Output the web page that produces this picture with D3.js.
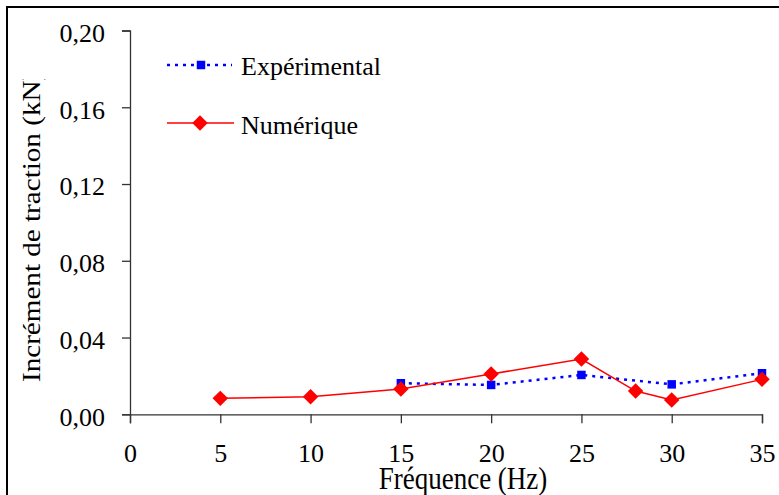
<!DOCTYPE html>
<html><head><meta charset="utf-8">
<script src="https://cdn.jsdelivr.net/npm/d3@7"></script>
<style>body{margin:0;background:#fff}svg{display:block}text{font-family:"Liberation Serif","Times New Roman",serif;fill:#000}</style>
</head><body>
<svg id="c" width="779" height="495"></svg>
<script>
const freqNum = [5, 10, 15, 20, 25, 28, 30, 35];
const numerique = [0.0083, 0.0092, 0.0132, 0.021, 0.0288, 0.0121, 0.0075, 0.0182];
const freqExp = [15, 20, 25, 30, 35];
const experimental = [0.0162, 0.0153, 0.0205, 0.0156, 0.0214];
const xTicks = [0, 5, 10, 15, 20, 25, 30, 35];
const yTicks = [0, 0.04, 0.08, 0.12, 0.16, 0.20];
const seriesNames = ["Expérimental", "Numérique"];

const svg = d3.select("#c");
const x = d3.scaleLinear().domain([0, 35]).range([130, 762]);
const y = d3.scaleLinear().domain([0, 0.2]).range([414.3, 30.5]);

svg.append("defs").append("clipPath").attr("id", "tclip")
  .append("rect").attr("x", 0).attr("y", 79).attr("width", 100).attr("height", 400);

// outer frame (top and left visible)
svg.append("path").attr("d", "M7,495V7H779").attr("fill", "none").attr("stroke", "#000").attr("stroke-width", 2);

const fmt = d => d3.format(".2f")(d).replace(".", ",");
const gx = svg.append("g").attr("transform", "translate(0,414.3)")
  .call(d3.axisBottom(x).tickValues(xTicks).tickSize(9).tickPadding(20).tickFormat(d3.format("d")));
const gy = svg.append("g").attr("transform", "translate(130,0)")
  .call(d3.axisLeft(y).tickValues(yTicks).tickSize(8).tickPadding(17).tickFormat(fmt));
[gx, gy].forEach(g => {
  g.select(".domain").attr("stroke", "#333").attr("stroke-width", 1.3);
  g.selectAll(".tick line").attr("stroke", "#333").attr("stroke-width", 1.3);
  g.selectAll(".tick text").attr("font-size", 26).attr("font-family", "Liberation Serif");
});
gy.selectAll(".tick text").attr("dy", "0.42em");

// lines
const lineE = d3.line().x((d, i) => x(freqExp[i])).y(d => y(d));
const lineN = d3.line().x((d, i) => x(freqNum[i])).y(d => y(d));
svg.append("path").datum(experimental).attr("d", lineE).attr("fill", "none")
  .attr("stroke", "#0000ff").attr("stroke-width", 2.5).attr("stroke-dasharray", "3,5");
svg.append("path").datum(numerique).attr("d", lineN).attr("fill", "none")
  .attr("stroke", "#ff0000").attr("stroke-width", 1.5);

const sq = d3.symbol().type(d3.symbolSquare).size(72);
const dm = d3.symbol().type(d3.symbolSquare).size(120);
svg.selectAll(".e").data(experimental).enter().append("path")
  .attr("d", sq).attr("fill", "#0000ff")
  .attr("transform", (d, i) => `translate(${x(freqExp[i])},${y(d)})`);
svg.selectAll(".n").data(numerique).enter().append("path")
  .attr("d", dm).attr("fill", "#ff0000")
  .attr("transform", (d, i) => `translate(${x(freqNum[i])},${y(d)}) rotate(45)`);

// legend
const lg = svg.append("g");
lg.append("line").attr("x1", 167).attr("x2", 232).attr("y1", 65).attr("y2", 65)
  .attr("stroke", "#0000ff").attr("stroke-width", 2.5).attr("stroke-dasharray", "3,5");
lg.append("path").attr("d", sq).attr("fill", "#0000ff").attr("transform", "translate(201,65)");
lg.append("text").attr("x", 241).attr("y", 75).attr("font-size", 26).text(seriesNames[0]);
lg.append("line").attr("x1", 167).attr("x2", 234).attr("y1", 123).attr("y2", 123)
  .attr("stroke", "#ff0000").attr("stroke-width", 1.5);
lg.append("path").attr("d", dm).attr("fill", "#ff0000").attr("transform", "translate(200,123) rotate(45)");
lg.append("text").attr("x", 241).attr("y", 134).attr("font-size", 26).text(seriesNames[1]);

// axis titles
svg.append("text").attr("transform", "translate(463,489) scale(1,1.15)")
  .attr("text-anchor", "middle").attr("font-size", 27).text("Fréquence (Hz)");
svg.append("g").attr("clip-path", "url(#tclip)")
  .append("text").attr("transform", "translate(40,382) rotate(-90) scale(1.12,1)")
  .attr("text-anchor", "start").attr("font-size", 26).text("Incrément de traction (kN)");
</script>
</body></html>
